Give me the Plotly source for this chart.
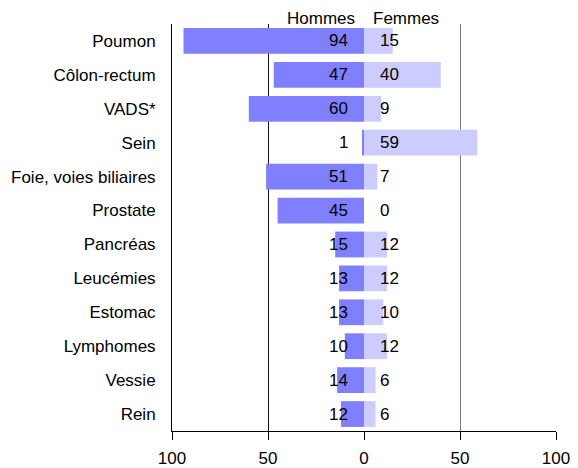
import plotly.graph_objects as go

categories = ["Poumon", "Côlon-rectum", "VADS*", "Sein", "Foie, voies biliaires", "Prostate",
              "Pancréas", "Leucémies", "Estomac", "Lymphomes", "Vessie", "Rein"]
hommes = [94, 47, 60, 1, 51, 45, 15, 13, 13, 10, 14, 12]
femmes = [15, 40, 9, 59, 7, 0, 12, 12, 10, 12, 6, 6]

left_ticks = [-100, -50, 0]
left_labels = ["100", "50", "0"]
right_ticks = [50, 100]
right_labels = ["50", "100"]

FONT = "Liberation Sans, Arial, sans-serif"
FS = 17

fig = go.Figure()
fig.add_trace(go.Bar(
    y=categories, x=[-v for v in hommes], orientation="h",
    marker=dict(color="#8080ff", line=dict(width=0)),
    xaxis="x", yaxis="y", name="Hommes", hoverinfo="skip"))
fig.add_trace(go.Bar(
    y=categories, x=femmes, orientation="h",
    marker=dict(color="#ccccff", line=dict(width=0)),
    xaxis="x2", yaxis="y", name="Femmes", hoverinfo="skip"))

annotations = []
for c, v in zip(categories, hommes):
    annotations.append(dict(x=0, y=c, xref="x", yref="y", text=str(v), showarrow=False,
                            xanchor="right", xshift=-14, font=dict(size=FS, color="black")))
for c, v in zip(categories, femmes):
    annotations.append(dict(x=0, y=c, xref="x2", yref="y", text=str(v), showarrow=False,
                            xanchor="left", xshift=14, font=dict(size=FS, color="black")))
annotations.append(dict(x=0.5, y=1, xref="paper", yref="paper", text="Hommes", showarrow=False,
                        xanchor="right", yanchor="middle", xshift=-7, yshift=6,
                        font=dict(size=FS, color="black")))
annotations.append(dict(x=0.5, y=1, xref="paper", yref="paper", text="Femmes", showarrow=False,
                        xanchor="left", yanchor="middle", xshift=7, yshift=6,
                        font=dict(size=FS, color="black")))

fig.update_layout(
    width=578, height=468,
    margin=dict(l=164, r=30, t=16, b=45, autoexpand=False),
    paper_bgcolor="white", plot_bgcolor="white",
    showlegend=False, bargap=0.24,
    font=dict(family=FONT, size=FS, color="black"),
    xaxis=dict(domain=[0, 0.5], anchor="y", range=[-100, 0], tickvals=left_ticks, ticktext=left_labels,
               showgrid=True, gridcolor="#111111", gridwidth=1, zeroline=False,
               showline=True, linecolor="black", linewidth=1,
               ticks="outside", ticklen=8, tickcolor="black", tickwidth=1,
               ticklabelstandoff=4, automargin=False, fixedrange=True),
    xaxis2=dict(domain=[0.5, 1], anchor="y", range=[0, 100], tickvals=right_ticks, ticktext=right_labels,
                showgrid=True, gridcolor="#777777", gridwidth=1, zeroline=False,
                showline=True, linecolor="black", linewidth=1,
                ticks="outside", ticklen=8, tickcolor="black", tickwidth=1,
                ticklabelstandoff=4, automargin=False, fixedrange=True),
    yaxis=dict(anchor="x", autorange="reversed", showgrid=False, zeroline=False,
               showline=True, linecolor="black", linewidth=1, ticks="",
               ticklabelstandoff=12, automargin=False, fixedrange=True),
    annotations=annotations,
)

fig.write_html("out.html")
